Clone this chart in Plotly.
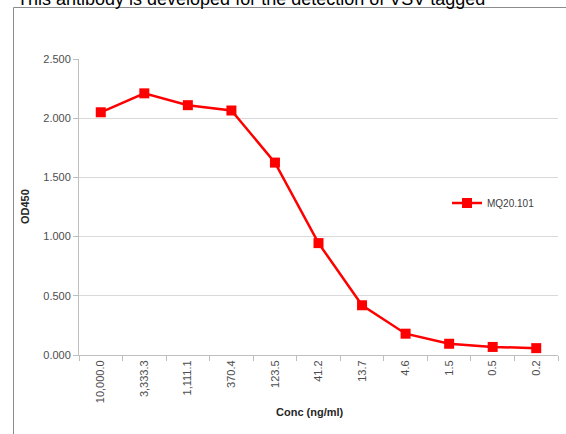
import plotly.graph_objects as go

categories = ["10,000.0", "3,333.3", "1,111.1", "370.4", "123.5", "41.2", "13.7", "4.6", "1.5", "0.5", "0.2"]
od450 = [2.05, 2.21, 2.11, 2.065, 1.625, 0.945, 0.42, 0.18, 0.095, 0.068, 0.058]
series_name = "MQ20.101"
y_ticks = [0, 0.5, 1.0, 1.5, 2.0, 2.5]

W, H = 566, 434
L, R, T, B = 79, 8, 59, 79
pw, ph = W - L - R, H - T - B

def px(x):
    return (x - L) / pw

def py(y):
    return (H - B - y) / ph

fig = go.Figure()
fig.add_trace(go.Scatter(
    x=categories, y=od450, name=series_name, mode="lines+markers",
    line=dict(color="#ff0000", width=2.5),
    marker=dict(symbol="square", size=10, color="#ff0000"),
))

tick_font = dict(family="Liberation Sans, Arial, sans-serif", size=11, color="#4d4d4d")

fig.update_layout(
    width=W, height=H,
    margin=dict(l=L, r=R, t=T, b=B),
    paper_bgcolor="white", plot_bgcolor="white",
    showlegend=True,
    legend=dict(x=px(447), y=py(203), xanchor="left", yanchor="middle",
                bgcolor="rgba(0,0,0,0)",
                font=dict(family="Liberation Sans, Arial, sans-serif", size=10, color="#404040")),
    xaxis=dict(type="category", range=[-0.5, 10.5], tickangle=-90,
               tickson="boundaries", ticks="outside", ticklen=5, tickcolor="#bfbfbf",
               showline=True, linecolor="#bfbfbf", linewidth=1,
               showgrid=False, tickfont=tick_font, fixedrange=True),
    yaxis=dict(range=[0, 2.5], tickvals=y_ticks, tickformat=".3f",
               ticks="outside", ticklen=5, tickcolor="#bfbfbf",
               showline=True, linecolor="#bfbfbf", linewidth=1,
               showgrid=True, gridcolor="#d9d9d9", gridwidth=1,
               zeroline=False, tickfont=tick_font, fixedrange=True),
    shapes=[dict(type="rect", xref="paper", yref="paper",
                 x0=px(13.5), x1=px(600), y0=py(470), y1=py(7.5),
                 line=dict(color="#8c8c8c", width=1), layer="below")],
    annotations=[
        dict(text="This antibody is developed for the detection of VSV tagged",
             xref="paper", yref="paper", x=px(15), y=py(11), xanchor="left", yanchor="bottom",
             showarrow=False, font=dict(family="Liberation Sans, Arial, sans-serif", size=18, color="#000000")),
        dict(text="<b>Conc (ng/ml)</b>", xref="paper", yref="paper", x=px(310), y=py(412),
             xanchor="center", yanchor="middle", showarrow=False,
             font=dict(family="Liberation Sans, Arial, sans-serif", size=11, color="#262626")),
        dict(text="<b>OD450</b>", xref="paper", yref="paper", x=px(25), y=py(207),
             xanchor="center", yanchor="middle", textangle=-90, showarrow=False,
             font=dict(family="Liberation Sans, Arial, sans-serif", size=11, color="#262626")),
    ],
)

fig.write_html("out.html", config={"displayModeBar": False},
               post_script="document.body.style.margin='0';document.body.style.overflow='hidden';")
